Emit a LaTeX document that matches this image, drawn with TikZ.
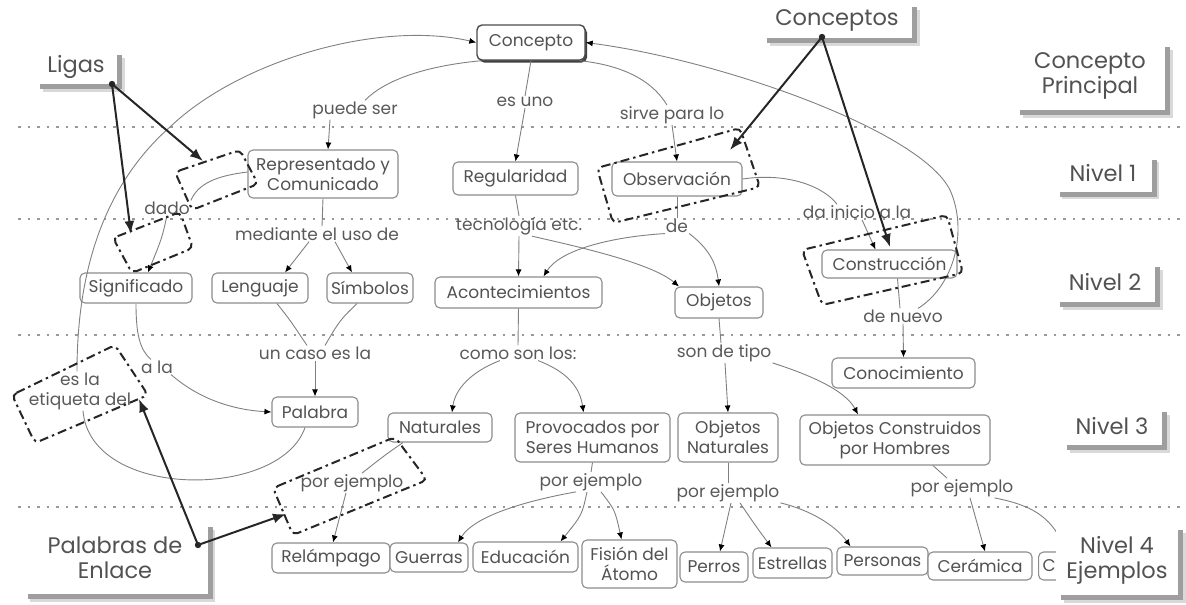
\documentclass[tikz,border=0pt]{standalone}
\usepackage{fontspec}
\setmainfont{Poppins}
\usetikzlibrary{arrows.meta,shadows}
\newcommand\mapfont{\fontsize{17}{20}\selectfont}
\newcommand\tagfont{\fontsize{22.5}{25}\selectfont}
\begin{document}
\begin{tikzpicture}[x=1pt,y=-1pt,
  concept/.style={draw=black!45, line width=1.1pt, rounded corners=5pt, fill=white,
    text=black!68, font=\mapfont, align=center, inner xsep=4pt, inner ysep=2pt},
  main/.style={concept, draw=black!70, line width=1.4pt,
    drop shadow={shadow xshift=2pt, shadow yshift=-2.5pt, fill=black!75, opacity=1}},
  link/.style={text=black!65, font=\mapfont, align=center, inner sep=1pt},
  ln/.style={draw=black!50, line width=0.9pt},
  arr/.style={ln, -{Latex[color=black, length=7pt, width=6pt]}},
  callout/.style={draw=black!85, line width=2pt,
    dash pattern=on 9pt off 4pt on 2.5pt off 4pt, rounded corners=5pt},
  pointer/.style={draw=black!85, line width=2pt, -{Latex[length=13pt, width=10pt]}},
  tag/.style={fill=white, text=black!68, font=\tagfont, align=center, inner sep=2pt,
    drop shadow={shadow xshift=7.5pt, shadow yshift=-7.5pt, fill=black!15, opacity=1},
    drop shadow={shadow xshift=5pt, shadow yshift=-5pt, fill=black!38, opacity=1}},
  level/.style={draw=black!40, line width=2.5pt, dash pattern=on 2.5pt off 7pt}]
\useasboundingbox (0,0) rectangle (1186,605);

% level separators
\foreach \yy in {127,219,335,507} \draw[level] (18,\yy) -- (1186,\yy);

% concepts
\node[main, minimum width=108pt, minimum height=35pt] (conc) at (531,42.5) {Concepto};
\node[concept, minimum width=150pt, minimum height=48pt] (rep) at (323,174) {Representado y\\Comunicado};
\node[concept, minimum width=125pt, minimum height=33pt] (reg) at (515.5,178.5) {Regularidad};
\node[concept, minimum width=130pt, minimum height=34pt] (obs) at (677,179) {Observación};
\node[concept, minimum width=112pt, minimum height=30pt] (sig) at (136,288) {Significado};
\node[concept, minimum width=96pt, minimum height=30pt] (len) at (260,288) {Lenguaje};
\node[concept, minimum width=86pt, minimum height=30pt] (sim) at (370,288) {Símbolos};
\node[concept, minimum width=167pt, minimum height=31pt] (acon) at (518.5,292.5) {Acontecimientos};
\node[concept, minimum width=88pt, minimum height=31pt] (obj) at (719,302.5) {Objetos};
\node[concept, minimum width=135pt, minimum height=28pt] (cons) at (889.5,264) {Construcción};
\node[concept, minimum width=143pt, minimum height=30pt] (cono) at (903.5,373) {Conocimiento};
\node[concept, minimum width=86pt, minimum height=30pt] (pal) at (315,412) {Palabra};
\node[concept, minimum width=104pt, minimum height=29pt] (nat) at (440,427.5) {Naturales};
\node[concept, minimum width=155pt, minimum height=49pt] (prov) at (592.5,437.5) {Provocados por\\Seres Humanos};
\node[concept, minimum width=100pt, minimum height=49pt] (onat) at (728,437.5) {Objetos\\Naturales};
\node[concept, minimum width=190pt, minimum height=50pt] (ocon) at (895,440) {Objetos Construidos\\por Hombres};
\node[concept, minimum width=118pt, minimum height=30pt] (rel) at (331,558) {Relámpago};
\node[concept, minimum width=78pt, minimum height=29pt] (gue) at (429,557.5) {Guerras};
\node[concept, minimum width=105pt, minimum height=30pt] (edu) at (525.5,557) {Educación};
\node[concept, minimum width=95pt, minimum height=48pt] (fis) at (629.5,564) {Fisión del\\Átomo};
\node[concept, minimum width=68pt, minimum height=30pt] (per) at (714,567) {Perros};
\node[concept, minimum width=79pt, minimum height=30pt] (est) at (792.5,563) {Estrellas};
\node[concept, minimum width=91pt, minimum height=28pt] (pers) at (882.5,561) {Personas};
\node[concept, minimum width=104pt, minimum height=28pt] (cer) at (980,566) {Cerámica};
\node[concept, text width=48pt, align=left, minimum height=28pt, anchor=west] (cpart) at (1038,566) {C};

% linking words
\node[link] (lpuede) at (355,110) {puede ser};
\node[link] (luno) at (525,102) {es uno};
\node[link] (lsirve) at (672,115) {sirve para lo};
\node[link] (ldado) at (167,208) {dado};
\node[link] (lmed) at (317,234) {mediante el uso de};
\node[link] (ltec) at (519,226) {tecnología etc.};
\node[link] (lde) at (677,226) {de};
\node[link] (linicio) at (857,212) {da inicio a la};
\node[link] (lnuevo) at (903,316) {de nuevo};
\node[link] (lcaso) at (315,353) {un caso es la};
\node[link] (letiq) at (80,391) {es la\\etiqueta del};
\node[link] (lala) at (157,367) {a la};
\node[link] (lcomo) at (518,353) {como son los:};
\node[link] (ltipo) at (724,353) {son de tipo};
\node[link] (lej1) at (352,483) {por ejemplo};
\node[link] (lej2) at (591,482) {por ejemplo};
\node[link] (lej3) at (728,493) {por ejemplo};
\node[link] (lej4) at (962,488) {por ejemplo};

% propositions from Concepto
\draw[ln] ([xshift=5pt]conc.south west) .. controls (425,66) and (385,80) .. ([xshift=10pt]lpuede.north);
\draw[arr] ([xshift=-25pt]lpuede.south) -- ([xshift=5pt]rep.north);
\draw[ln] (conc.south) -- (luno.north);
\draw[arr] (luno.south) -- (reg.north);
\draw[ln] ([xshift=-6pt]conc.south east) .. controls (630,66) and (655,85) .. ([xshift=-5pt]lsirve.north);
\draw[arr] (lsirve.south) -- (obs.north);

% long arcs back to Concepto
\draw[arr] ([xshift=-3pt]letiq.north) .. controls (77,260) and (110,180) .. (170,127)
  .. controls (240,60) and (380,20) .. (conc.west);
\draw[ln] ([xshift=-10pt]pal.south) .. controls (280,500) and (90,500) .. ([xshift=3pt]letiq.south);
\draw[arr] ([xshift=15pt]lnuevo.north) .. controls (955,285) and (968,230) .. (950,190)
  .. controls (920,130) and (720,60) .. (conc.east);

% Representado y Comunicado branch
\draw[ln] ([yshift=2pt]rep.west) .. controls (215,176) and (198,184) .. (ldado.north east);
\draw[arr] (ldado.south) .. controls (162,238) .. ([xshift=12pt]sig.north);
\draw[ln] (rep.south) -- ([xshift=5pt]lmed.north);
\draw[arr] ([xshift=-8pt]lmed.south) -- ([xshift=25pt]len.north);
\draw[arr] ([xshift=18pt]lmed.south) -- ([xshift=-18pt]sim.north);
\draw[ln] ([xshift=17pt]len.south) .. controls (290,320) .. ([xshift=-8pt]lcaso.north);
\draw[ln] ([xshift=-13pt]sim.south) .. controls (340,320) .. ([xshift=10pt]lcaso.north);
\draw[arr] (lcaso.south) -- (pal.north);
\draw[ln] (sig.south) .. controls (136,335) and (140,350) .. ([xshift=-6pt]lala.north);
\draw[arr] ([xshift=-3pt]lala.south east) .. controls (200,400) and (235,410) .. (pal.west);

% Regularidad and Observación branches
\draw[ln] (reg.south) -- (ltec.north);
\draw[arr] (ltec.south) -- (acon.north);
\draw[arr] ([xshift=13pt]ltec.south) .. controls (570,245) and (650,262) .. ([xshift=-40pt]obj.north);
\draw[ln] (obs.south) -- (lde.north);
\draw[arr] (lde.south west) .. controls (610,237) and (560,250) .. ([xshift=25pt]acon.north);
\draw[arr] (lde.south east) .. controls (708,248) and (716,262) .. (obj.north);
\draw[ln] (obs.east) .. controls (790,172) and (825,188) .. ([xshift=-20pt]linicio.north);
\draw[arr] ([xshift=5pt]linicio.south) -- ([xshift=-14pt]cons.north);
\draw[ln] ([xshift=8pt]cons.south) -- ([xshift=-3pt]lnuevo.north);
\draw[arr] (lnuevo.south) -- (cono.north);

% level 3
\draw[ln] (acon.south) -- (lcomo.north);
\draw[arr] ([xshift=-18pt]lcomo.south) .. controls (470,372) and (455,390) .. ([xshift=12pt]nat.north);
\draw[arr] ([xshift=20pt]lcomo.south) .. controls (568,372) and (580,388) .. ([xshift=-9pt]prov.north);
\draw[ln] (obj.south) -- ([xshift=-3pt]ltipo.north);
\draw[arr] ([xshift=1pt]ltipo.south) -- (onat.north);
\draw[arr] (ltipo.south east) .. controls (810,375) and (845,390) .. ([xshift=-37pt]ocon.north);

% level 4 examples
\draw[ln] ([xshift=-37pt]nat.south) .. controls (385,455) .. ([xshift=10pt]lej1.north);
\draw[arr] ([xshift=-6pt]lej1.south) -- ([xshift=2pt]rel.north);
\draw[ln] (prov.south) -- (lej2.north);
\draw[arr] ([xshift=-15pt]lej2.south) .. controls (530,500) and (475,515) .. ([xshift=29pt]gue.north);
\draw[arr] ([xshift=-4pt]lej2.south) .. controls (582,515) .. ([xshift=35pt]edu.north);
\draw[arr] ([xshift=10pt]lej2.south) .. controls (615,510) .. ([xshift=-8pt]fis.north);
\draw[ln] (onat.south) -- (lej3.north);
\draw[arr] ([xshift=3pt]lej3.south) -- ([xshift=6pt]per.north);
\draw[arr] ([xshift=12pt]lej3.south) .. controls (755,525) .. ([xshift=-21pt]est.north);
\draw[arr] (lej3.south east) .. controls (810,510) and (835,525) .. ([xshift=-32pt]pers.north);
\draw[ln] ([xshift=38pt]ocon.south) -- ([xshift=-15pt]lej4.north);
\draw[arr] ([xshift=8pt]lej4.south) -- ([xshift=5pt]cer.north);
\draw[arr] ([xshift=-20pt]lej4.south east) .. controls (1030,505) and (1050,515) .. (cpart.north);

% annotation tags
\node[tag, minimum width=82pt, minimum height=34pt] (tligas) at (76,67) {Ligas};
\node[tag, minimum width=150pt, minimum height=36pt] (tconceptos) at (837,20) {Conceptos};
\node[tag, minimum width=150pt, minimum height=68pt] (tprincipal) at (1090,76) {Concepto\\Principal};
\node[tag, minimum width=97pt, minimum height=37pt] (tn1) at (1103,173) {Nivel 1};
\node[tag, minimum width=100pt, minimum height=40pt] (tn2) at (1105,282) {Nivel 2};
\node[tag, minimum width=100pt, minimum height=38pt] (tn3) at (1112,426) {Nivel 3};
\node[tag, minimum width=122pt, minimum height=70pt] (tn4) at (1117,560) {Nivel 4\\Ejemplos};
\node[tag, minimum width=185pt, minimum height=72pt] (tenlace) at (115,558) {Palabras de\\Enlace};

% dashed frames around sample links and concepts
\draw[callout] (175,172) -- (240,150) -- (258,184) -- (192,210) -- cycle;
\draw[callout] (113,238) -- (180,212) -- (193,248) -- (132,273) -- cycle;
\draw[callout] (12,395) -- (115,345) -- (148,395) -- (35,443) -- cycle;
\draw[callout] (273,488) -- (395,437) -- (427,480) -- (293,535) -- cycle;
\draw[callout] (597,168) -- (740,128) -- (760,187) -- (613,223) -- cycle;
\draw[callout] (802,250) -- (947,215) -- (963,273) -- (822,305) -- cycle;

% pointers from the tags to the frames
\coordinate (pLigas) at (112,84);
\coordinate (pConc) at (822,37);
\coordinate (pEnl) at (198,545);
\coordinate (fA) at (203,161);
\coordinate (fB) at (131,234);
\coordinate (fC) at (139,399);
\coordinate (fD) at (286,514);
\coordinate (fE) at (730,150);
\coordinate (fF) at (890,247);
\draw[pointer] (pLigas) -- (fA);
\draw[pointer] (pLigas) -- (fB);
\draw[pointer] (pConc) -- (fE);
\draw[pointer] (pConc) -- (fF);
\draw[pointer] (pEnl) -- (fC);
\draw[pointer] (pEnl) -- (fD);
\foreach \p in {pLigas,pConc,pEnl} \fill[black!85] (\p) circle (3.2pt);
\end{tikzpicture}
\end{document}
